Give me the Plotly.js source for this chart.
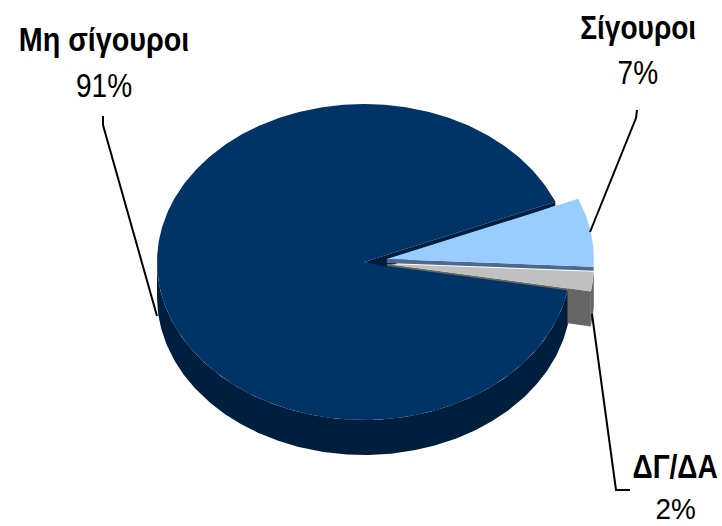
<!DOCTYPE html>
<html><head><meta charset="utf-8">
<script src="https://cdn.plot.ly/plotly-3.0.1.min.js"></script>
<style>html,body{margin:0;padding:0;background:#fff}#c{width:722px;height:526px}</style></head>
<body><div id="c"></div>
<script>
const categories = ["Σίγουροι", "ΔΓ/ΔΑ", "Μη σίγουροι"];
const values = [7, 2, 91];
const topColors = ["#99ccff", "#c0c0c0", "#003366"];
const sideColors = ["#4d6a8c", "#666666", "#001f3f"];
const exploded = [0.112, 0.112, 0];

const cx = 364, cy = 262, rx = 207, ry = 158, depth = 35, wall = 4, startDeg = 22.4;
const total = values.reduce((a, b) => a + b, 0);
const rad = d => d * Math.PI / 180;

let cursor = startDeg;
const slices = values.map((v, i) => {
  const a0 = cursor, a1 = cursor - v / total * 360;
  cursor = a1;
  const mid = rad((a0 + a1) / 2);
  return {a0, a1, i,
    ox: cx + exploded[i] * rx * Math.cos(mid),
    oy: cy - exploded[i] * ry * Math.sin(mid)};
});
function arc(s, a0, a1, dy) {
  const n = Math.max(2, Math.ceil(Math.abs(a1 - a0) * 1.5)), pts = [];
  for (let k = 0; k <= n; k++) {
    const a = rad(a0 + (a1 - a0) * k / n);
    pts.push([s.ox + rx * Math.cos(a), s.oy - ry * Math.sin(a) + dy]);
  }
  return pts;
}
const at = (s, a) => arc(s, a, a, 0)[0];
function poly(pts, color) {
  return {type: "scatter", mode: "lines", x: pts.map(p => p[0]), y: pts.map(p => p[1]),
    fill: "toself", fillcolor: color, line: {width: 0, color: color}, hoverinfo: "skip", showlegend: false};
}
const [blue, grey, main] = slices;
const traces = [];
const mainEnd = blue.a0 - 360;
// main slice: rim
traces.push(poly(arc(main, -180, grey.a1, 0).concat(arc(main, grey.a1, -180, depth)), sideColors[2]));
// grey slice: outer rim and the cut face beyond the main slice
const gEnd = at(grey, grey.a1), mEnd = at(main, grey.a1);
const gEdgeY = grey.oy + (gEnd[1] - grey.oy) * (mEnd[0] - grey.ox) / (gEnd[0] - grey.ox);
traces.push(poly([[mEnd[0], gEdgeY], gEnd, [gEnd[0], gEnd[1] + depth], [mEnd[0], gEdgeY + depth]], sideColors[1]));
traces.push(poly(arc(grey, grey.a0, grey.a1, 0).concat(arc(grey, grey.a1, grey.a0, depth)), sideColors[1]));
// main slice: top and inner wall sliver
traces.push(poly([[main.ox, main.oy]].concat(arc(main, grey.a1, mainEnd, 0)), topColors[2]));
const edge = at(main, blue.a0);
traces.push(poly([[main.ox, main.oy], edge, [edge[0], edge[1] + wall], [blue.ox, blue.oy + 8]], sideColors[2]));
// grey slice: top
traces.push(poly([[grey.ox, grey.oy], gEnd, [gEnd[0], gEnd[1] + 2], [grey.ox, grey.oy + 2]], sideColors[1]));
traces.push(poly([[grey.ox, grey.oy]].concat(arc(grey, grey.a0, grey.a1, 0)), topColors[1]));
// blue slice
const bEnd = at(blue, blue.a1);
traces.push(poly([[blue.ox, blue.oy], bEnd, [bEnd[0], bEnd[1] + wall], [blue.ox, blue.oy + wall]], sideColors[0]));
traces.push(poly([[blue.ox, blue.oy]].concat(arc(blue, blue.a0, blue.a1, 0)), topColors[0]));

const fontFam = '"Liberation Sans",Arial,sans-serif';
const labelPos = [[638, 27, 72], [675, 466, 508.5], [104, 39, 85]];
const pctSizes = [33, 30, 33];
const squeeze = [0.85, 0.85, 0.85, 0.93, 0.87, 0.85];
const annotations = [];
categories.forEach((c, i) => {
  const p = labelPos[i];
  annotations.push({x: p[0], y: p[1], xref: "x", yref: "y", text: "<b>" + c + "</b>", showarrow: false,
    font: {family: fontFam, size: 33, color: "#000"}, xanchor: "center", yanchor: "middle"});
  annotations.push({x: p[0], y: p[2], xref: "x", yref: "y", text: values[i] + "%", showarrow: false, borderpad: 0,
    font: {family: fontFam, size: pctSizes[i], color: "#000"}, xanchor: "center", yanchor: "middle"});
});
const leader = d => ({type: "path", xref: "x", yref: "y", path: d, line: {color: "#000", width: 2}});
const layout = {
  width: 722, height: 526, margin: {l: 0, r: 0, t: 0, b: 0},
  paper_bgcolor: "#fff", plot_bgcolor: "#fff", showlegend: false,
  xaxis: {range: [0, 722], visible: false, fixedrange: true},
  yaxis: {range: [526, 0], visible: false, fixedrange: true},
  annotations,
  shapes: [leader("M103,116L103,125L157,316"), leader("M637,110L636,118L590,232"), leader("M630,490L616,490L592,314")]
};
Plotly.newPlot("c", traces, layout, {displayModeBar: false, staticPlot: true}).then(() => {
  document.querySelectorAll("#c .annotation-text").forEach((t, k) => {
    const b = t.getBBox(), m = b.x + b.width / 2;
    t.setAttribute("transform", `translate(${m},0) scale(${squeeze[k]},1) translate(${-m},0)`);
  });
});
</script></body></html>
